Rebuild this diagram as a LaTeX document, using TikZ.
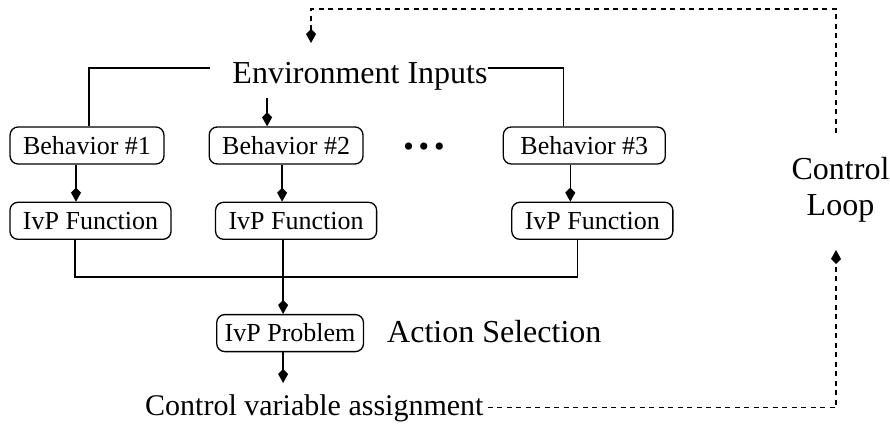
\documentclass[tikz,border=0pt]{standalone}
\usepackage{fontspec}
\setmainfont{Liberation Serif}
\usetikzlibrary{arrows.meta,positioning}

\begin{document}
\begin{tikzpicture}[x=1pt,y=-1pt,
  block/.style={draw,rounded corners=8pt,line width=1.3pt,minimum height=37pt,inner xsep=13pt,inner ysep=0pt,font=\fontsize{26}{28}\selectfont},
  caption/.style={inner sep=0pt,font=\fontsize{30}{36}\selectfont},
  line/.style={line width=1.5pt},
  arrow/.style={line width=1.5pt,-{Kite[length=14pt,width=10pt,inset=5pt]}},
  loopline/.style={line width=1.3pt,dash pattern=on 5pt off 4.5pt,-{Kite[length=14pt,width=10pt,inset=5pt]}}
]
\useasboundingbox (0,0) rectangle (890,423);
\node[caption,font=\fontsize{32}{36}\selectfont] (env) at (360,76) {Environment Inputs};
\node[block] (b1) at (87,145.5) {Behavior \#1};
\node[block,right=44pt of b1] (b2) {Behavior \#2};
\node[block,right=139pt of b2,minimum width=162pt] (b3) {Behavior \#3};
\node[inner sep=0pt,font=\fontsize{30}{36}\selectfont] (dots) at (424,150) {\textbullet\hspace{5pt}\textbullet\hspace{5pt}\textbullet};
\node[block,below=37pt of b1,xshift=3.5pt] (f1) {IvP Function};
\node[block,below=37pt of b2,xshift=10pt] (f2) {IvP Function};
\node[block,below=37pt of b3,xshift=8pt] (f3) {IvP Function};
\node[block,below=74pt of f2,xshift=-6pt,inner xsep=8pt] (prob) {IvP Problem};
\node[caption,font=\fontsize{32}{36}\selectfont,anchor=base west] (act) at (387,342) {Action Selection};
\node[caption,anchor=base west] (cva) at (145,415) {Control variable assignment};
\node[caption,font=\fontsize{32}{36}\selectfont,align=center,anchor=north] (ctrl) at (840.5,157.5) {Control\\Loop};
\coordinate (loopin) at (836,250);
\coordinate (loopout) at (836,133);
\coordinate (looptop) at (836,9);
\coordinate (envin) at (311,43);

% inputs to the behaviors
\draw[line] ([xshift=-22pt,yshift=15pt]env.base west) -| ([xshift=2pt]b1.north);
\draw[line] ([yshift=15pt]env.base east) -| ([xshift=-21pt]b3.north);
\draw[arrow,shorten <=8pt] ([xshift=-19pt]b2.north |- env.south) -- ([xshift=-19pt]b2.north);
% behaviors to functions
\draw[arrow] ([xshift=-11pt]b1.south) -- ([xshift=-11pt]b1.south |- f1.north);
\draw[arrow] ([xshift=-4pt]b2.south) -- ([xshift=-4pt]b2.south |- f2.north);
\draw[arrow] ([xshift=-14pt]b3.south) -- ([xshift=-14pt]b3.south |- f3.north);
% functions to the problem
\draw[line] ([xshift=-15.5pt]f1.south) |- ([xshift=-15pt,yshift=-37pt]f3.south) -- ([xshift=-15pt]f3.south);
\draw[arrow] ([xshift=-13pt]f2.south) -- ([xshift=-13pt]f2.south |- prob.north);
\draw[arrow,shorten >=11pt] ([xshift=-7pt]prob.south) -- ([xshift=-7pt]prob.south |- cva.north);
% control loop
\draw[loopline] ([xshift=4pt]cva.east) -| (loopin);
\draw[loopline] (loopout) -- (looptop) -| (envin);
\end{tikzpicture}
\end{document}
